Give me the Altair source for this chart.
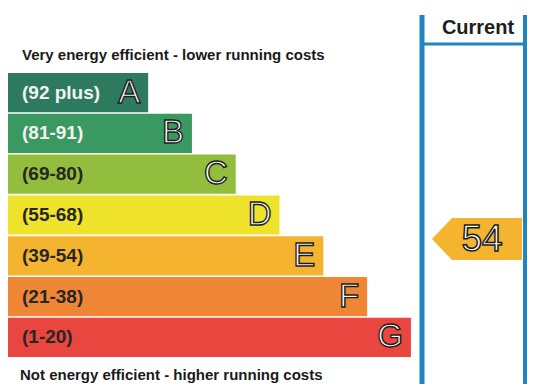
import altair as alt
import pandas as pd

# ---- data ----
bands = ["A", "B", "C", "D", "E", "F", "G"]
ranges = ["(92 plus)", "(81-91)", "(69-80)", "(55-68)", "(39-54)", "(21-38)", "(1-20)"]
bar_length = [32, 42, 52, 62, 72, 82, 92]
current_rating = [54]
top_note = "Very energy efficient - lower running costs"
bottom_note = "Not energy efficient - higher running costs"
column_title = "Current"

# ---- styles ----
band_colors = ["#2d7a5e", "#3a9861", "#93bd3d", "#efe22b", "#f4b430", "#ef8636", "#e9463f"]
blue = "#1f85be"
arrow_color = "#f4b430"
FONT = "Liberation Sans"

df = pd.DataFrame({"band": bands, "range": ranges, "length": bar_length})
cur = pd.DataFrame({"rating": current_rating})
one = pd.DataFrame({"k": [0]})

xs = alt.Scale(domain=[0, 118.5], range=[0, 519])
ys = alt.Scale(domain=bands, range=[65, 349], paddingInner=0.04, paddingOuter=0.0)

bars = alt.Chart(df).mark_bar(cornerRadius=0).encode(
    y=alt.Y("band:N", scale=ys, axis=None),
    x=alt.X("length:Q", scale=xs, axis=None),
    color=alt.Color("band:N", scale=alt.Scale(domain=bands, range=band_colors), legend=None),
)

range_labels = alt.Chart(df).mark_text(
    align="left", baseline="middle", font=FONT, fontWeight="bold", fontSize=19
).encode(
    y=alt.Y("band:N", scale=ys, axis=None),
    x=alt.value(14),
    text="range:N",
    color=alt.condition(alt.FieldOneOfPredicate(field="band", oneOf=["A", "B"]),
                        alt.value("#f2f2f2"), alt.value("#262626")),
)

letters = alt.Chart(df).mark_text(
    align="right", baseline="middle", font=FONT, fontSize=33, dx=-8,
    fill="white", stroke="#1e1e1e", strokeWidth=1.4
).encode(
    y=alt.Y("band:N", scale=ys, axis=None),
    x=alt.X("length:Q", scale=xs, axis=None),
    text="band:N",
)

top_txt = alt.Chart(one).mark_text(
    text=top_note, align="left", baseline="middle", font=FONT, fontWeight="bold",
    fontSize=15, color="#1a1a1a"
).encode(x=alt.value(14), y=alt.value(47))

bottom_txt = alt.Chart(one).mark_text(
    text=bottom_note, align="left", baseline="middle", font=FONT, fontWeight="bold",
    fontSize=15, color="#1a1a1a"
).encode(x=alt.value(12), y=alt.value(367))

vline_left = alt.Chart(one).mark_rule(color=blue, strokeWidth=5).encode(
    x=alt.value(414), y=alt.value(7), y2=alt.value(376))
vline_right = alt.Chart(one).mark_rule(color=blue, strokeWidth=4).encode(
    x=alt.value(517), y=alt.value(7), y2=alt.value(376))
hline = alt.Chart(one).mark_rule(color=blue, strokeWidth=3).encode(
    x=alt.value(414), x2=alt.value(519), y=alt.value(36))

header = alt.Chart(one).mark_text(
    text=column_title, align="center", baseline="middle", font=FONT, fontWeight="bold",
    fontSize=20, color="#1e1e1e"
).encode(x=alt.value(470), y=alt.value(20))

arrow_path = "M -1 0 L -0.556 -0.467 L 1 -0.467 L 1 0.467 L -0.556 0.467 Z"
arrow = alt.Chart(cur).mark_point(
    shape=arrow_path, size=8100, filled=True, color=arrow_color, opacity=1, strokeWidth=0
).encode(x=alt.value(469), y=alt.value(231))

arrow_txt = alt.Chart(cur).mark_text(
    align="center", baseline="middle", font=FONT, fontSize=37,
    fill="white", stroke="#1a1a1a", strokeWidth=1.5
).encode(x=alt.value(474), y=alt.value(232), text="rating:Q")

chart = alt.layer(
    bars, range_labels, letters, top_txt, bottom_txt,
    vline_left, vline_right, hline, header, arrow, arrow_txt
).properties(
    width=519, height=376,
    autosize=alt.AutoSizeParams(type="fit", contains="padding"),
    padding=0,
).configure_view(stroke=None)

chart.save("out.html", embed_options={"renderer": "svg", "actions": False})
